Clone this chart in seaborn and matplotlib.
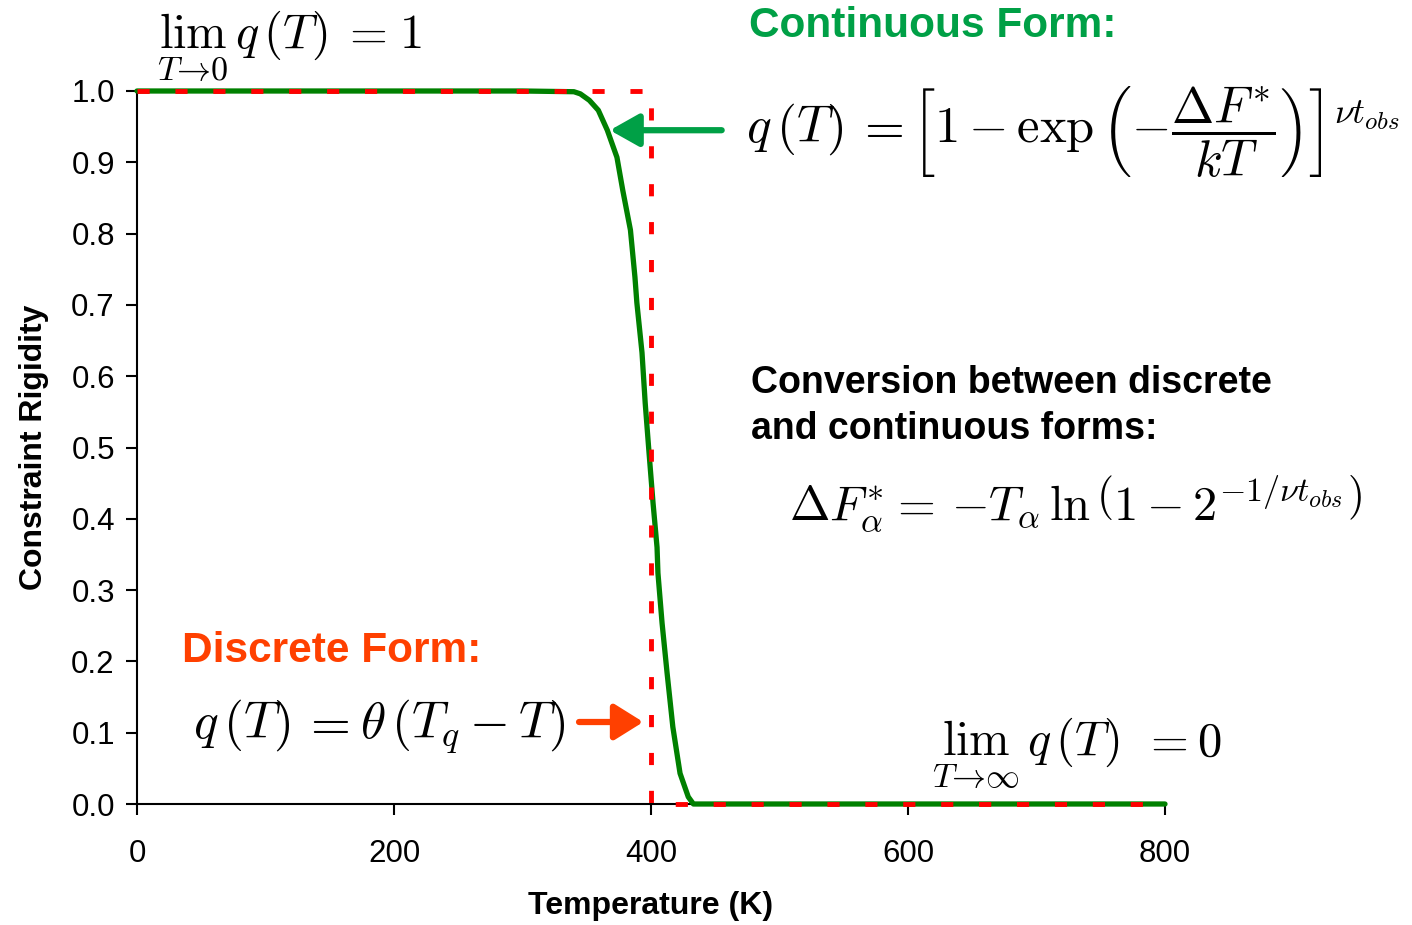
import matplotlib
matplotlib.use("Agg")
import matplotlib.pyplot as plt
import seaborn as sns
import pandas as pd

# Simulated constraint rigidity vs. temperature (continuous form)
sim_temperature = [0, 100, 200, 300, 340, 345, 352, 359, 366, 373.5, 378, 384, 387.5,
                   389, 393, 395.5, 398.5, 401.6, 404.7, 405.4, 408.6, 412.5, 417,
                   422.6, 429, 433, 500, 600, 700, 800]
sim_rigidity = [1.0, 1.0, 1.0, 1.0, 0.999, 0.996, 0.987, 0.973, 0.945, 0.907, 0.861,
                0.805, 0.739, 0.703, 0.633, 0.562, 0.492, 0.422, 0.360, 0.324, 0.254,
                0.184, 0.108, 0.043, 0.010, 0.0, 0.0, 0.0, 0.0, 0.0]

# Discrete (step function) form, onset at T_q = 400 K
step_temperature = [0, 400, 400, 800]
step_rigidity = [1, 1, 0, 0]

x_ticks = [0, 200, 400, 600, 800]
y_ticks = [0.0, 0.1, 0.2, 0.3, 0.4, 0.5, 0.6, 0.7, 0.8, 0.9, 1.0]

sns.set_style("ticks")
plt.rcParams["font.family"] = ["Liberation Sans", "DejaVu Sans"]
plt.rcParams["mathtext.fontset"] = "cm"
for key in ("text.color", "axes.labelcolor", "xtick.color", "ytick.color"):
    plt.rcParams[key] = "black"

W, H = 1412, 925
fig = plt.figure(figsize=(W / 100, H / 100), dpi=100)
ax = fig.add_axes([137 / W, 1 - 804 / H, (1165 - 137) / W, (804 - 91) / H])

sim_df = pd.DataFrame({"T": sim_temperature, "q": sim_rigidity})
step_df = pd.DataFrame({"T": step_temperature, "q": step_rigidity})

sns.lineplot(data=sim_df, x="T", y="q", ax=ax, color="#008000", linewidth=3.8,
             estimator=None, sort=False, clip_on=False, zorder=3)
sns.lineplot(data=step_df, x="T", y="q", ax=ax, color="#ff0000", linewidth=3.5,
             estimator=None, sort=False, clip_on=False, zorder=4,
             dashes=False, linestyle=(0, (2.5, 5.3)))

ax.set_xlim(0, 800)
ax.set_ylim(0, 1)
ax.set_xticks(x_ticks)
ax.set_yticks(y_ticks)
ax.set_yticklabels([f"{v:.1f}" for v in y_ticks])
ax.tick_params(axis="both", labelsize=22.5, width=1.5, length=8, color="black",
               labelcolor="black")
ax.tick_params(axis="x", pad=17)
ax.tick_params(axis="y", pad=8)
for side in ("top", "right"):
    ax.spines[side].set_visible(False)
for side in ("left", "bottom"):
    ax.spines[side].set_linewidth(1.5)
    ax.spines[side].set_color("black")

ax.set_xlabel("Temperature (K)", fontsize=23, fontweight="bold", labelpad=16)
ax.set_ylabel("Constraint Rigidity", fontsize=23, fontweight="bold", labelpad=16)


def fx(px):
    return px / W


def fy(py):
    return 1 - py / H


def equation(lhs, lhs_x, eq_x, rhs, rhs_x, base_y, size, rhs_size=None):
    """Draw 'lhs = rhs' on a common baseline (pixel coordinates)."""
    fig.text(fx(lhs_x), fy(base_y), lhs, fontsize=size, ha="left", va="baseline")
    fig.text(fx(eq_x), fy(base_y), r"$=$", fontsize=size, ha="center", va="baseline")
    fig.text(fx(rhs_x), fy(base_y), rhs, fontsize=rhs_size or size, ha="left",
             va="baseline")


# Limits of the rigidity
equation(r"$\lim_{T\to 0}\, q\,(T)$", 157, 364, r"$1$", 399, 48, 35)
equation(r"$\lim_{T\to \infty}\, q\,(T)$", 932, 1165, r"$0$", 1197, 756, 35)

# Continuous form
fig.text(fx(749), fy(37), "Continuous Form:", fontsize=30.5, fontweight="bold",
         color="#00a046", ha="left", va="baseline")
equation(r"$q\,(T)$", 746, 879,
         r"$\left[1 - \exp\left(-\dfrac{\Delta F^{*}}{kT}\right)\right]^{\nu t_{obs}}$",
         911, 142, 37, rhs_size=36.5)

# Conversion between forms
fig.text(fx(751), fy(406), "Conversion between discrete\nand continuous forms:",
         fontsize=27, fontweight="bold", color="black", ha="left", va="center",
         linespacing=1.35)
equation(r"$\Delta F^{*}_{\alpha}$", 789, 912,
         r"$-T_{\alpha}\,\ln\left(1 - 2^{-1/\nu t_{obs}}\right)$", 951, 520, 35)

# Discrete form
fig.text(fx(182), fy(662), "Discrete Form:", fontsize=30.5, fontweight="bold",
         color="#ff4000", ha="left", va="baseline")
equation(r"$q\,(T)$", 193, 325, r"$\theta\,(T_q - T)$", 360, 738, 37)

# Arrows pointing at the curves
ax.annotate("", xy=(368, 0.945), xytext=(455, 0.945), xycoords="data",
            annotation_clip=False,
            arrowprops=dict(arrowstyle="-|>,head_length=0.8,head_width=0.45",
                            mutation_scale=22, lw=4.5, color="#00a046",
                            shrinkA=0, shrinkB=0))
ax.annotate("", xy=(394, 0.115), xytext=(344, 0.115), xycoords="data",
            annotation_clip=False,
            arrowprops=dict(arrowstyle="-|>,head_length=0.8,head_width=0.5",
                            mutation_scale=22, lw=4.5, color="#ff4000",
                            shrinkA=0, shrinkB=0))

fig.savefig("out.png", dpi=100, facecolor="white")
